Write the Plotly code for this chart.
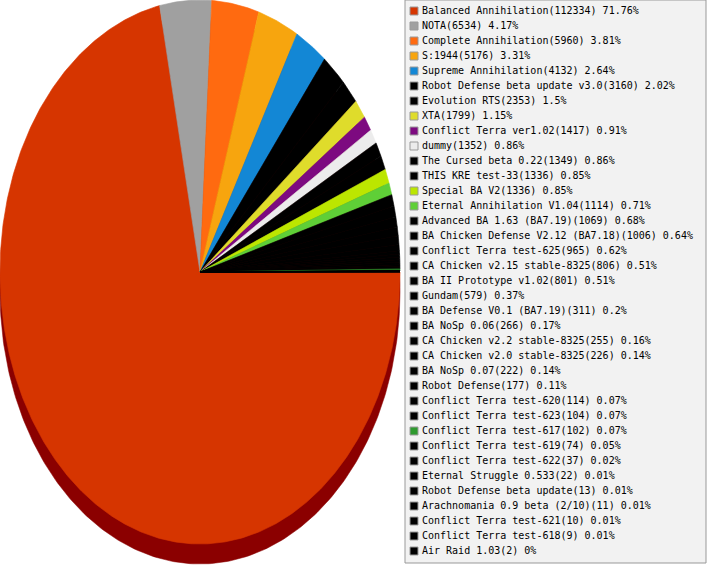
import numpy as np
import plotly.graph_objects as go

names = [
    "Balanced Annihilation", "NOTA", "Complete Annihilation", "S:1944",
    "Supreme Annihilation", "Robot Defense beta update v3.0", "Evolution RTS",
    "XTA", "Conflict Terra ver1.02", "dummy", "The Cursed beta 0.22",
    "THIS KRE test-33", "Special BA V2", "Eternal Annihilation V1.04",
    "Advanced BA 1.63 (BA7.19)", "BA Chicken Defense V2.12 (BA7.18)",
    "Conflict Terra test-625", "CA Chicken v2.15 stable-8325",
    "BA II Prototype v1.02", "Gundam", "BA Defense V0.1 (BA7.19)",
    "BA NoSp 0.06", "CA Chicken v2.2 stable-8325", "CA Chicken v2.0 stable-8325",
    "BA NoSp 0.07", "Robot Defense", "Conflict Terra test-620",
    "Conflict Terra test-623", "Conflict Terra test-617", "Conflict Terra test-619",
    "Conflict Terra test-622", "Eternal Struggle 0.533", "Robot Defense beta update",
    "Arachnomania 0.9 beta (2/10)", "Conflict Terra test-621",
    "Conflict Terra test-618", "Air Raid 1.03",
]
counts = [
    112334, 6534, 5960, 5176, 4132, 3160, 2353, 1799, 1417, 1352, 1349, 1336,
    1336, 1114, 1069, 1006, 965, 806, 801, 579, 311, 266, 255, 226, 222, 177,
    114, 104, 102, 74, 37, 22, 13, 11, 10, 9, 2,
]
percents = [
    "71.76", "4.17", "3.81", "3.31", "2.64", "2.02", "1.5", "1.15", "0.91",
    "0.86", "0.86", "0.85", "0.85", "0.71", "0.68", "0.64", "0.62", "0.51",
    "0.51", "0.37", "0.2", "0.17", "0.16", "0.14", "0.14", "0.11", "0.07",
    "0.07", "0.07", "0.05", "0.02", "0.01", "0.01", "0.01", "0.01", "0.01", "0",
]
colors = [
    "#d63500", "#a0a0a0", "#ff6a10", "#f7a50e", "#1387d5", "#000000", "#000000",
    "#dfdc2b", "#7d0a80", "#ececec", "#000000", "#000000", "#bce600", "#5fcf37",
    "#000000", "#000000", "#000000", "#000000", "#000000", "#000000", "#000000",
    "#000000", "#000000", "#000000", "#000000", "#000000", "#000000", "#000000",
    "#2e9a2e", "#000000", "#000000", "#000000", "#000000", "#000000", "#000000",
    "#000000", "#000000",
]

# geometry (pixel units on hidden axes)
CX, CY, RX, RY, DEPTH = 200.0, 272.0, 200.0, 272.0, 20.0
LEG_X0, LEG_Y0, LEG_X1, LEG_Y1 = 405, 0, 706, 563
SQ_X, TXT_X, ROW0, ROWH = 414, 422, 11, 15

fig = go.Figure()

# side / shadow of the pie
t = np.linspace(0, 2 * np.pi, 400)
fig.add_trace(go.Scatter(
    x=CX + RX * np.cos(t), y=CY + DEPTH + RY * np.sin(t),
    fill="toself", fillcolor="#8b0000", mode="lines",
    line=dict(color="#8b0000", width=0.5), showlegend=False, hoverinfo="skip"))

vals = np.array(counts, dtype=float)
fracs = vals / vals.sum()
cum = np.concatenate([[0], np.cumsum(fracs)]) * 2 * np.pi
for i, (nm, c) in enumerate(zip(names, colors)):
    a0, a1 = cum[i], cum[i + 1]
    n = max(2, int(np.ceil((a1 - a0) / (2 * np.pi) * 720)))
    tt = np.linspace(a0, a1, n)
    xs = np.concatenate([[CX], CX + RX * np.cos(tt), [CX]])
    ys = np.concatenate([[CY], CY + RY * np.sin(tt), [CY]])
    fig.add_trace(go.Scatter(
        x=xs, y=ys, fill="toself", fillcolor=c, mode="lines",
        line=dict(color=c, width=0.6), showlegend=False,
        name=nm, hoverinfo="name"))

# legend box
fig.add_shape(type="rect", x0=LEG_X0, y0=LEG_Y0, x1=LEG_X1, y1=LEG_Y1,
              xref="x", yref="y", fillcolor="#f2f2f2",
              line=dict(color="#999999", width=1), layer="below")

rows = [ROW0 + ROWH * i for i in range(len(names))]
fig.add_trace(go.Scatter(
    x=[SQ_X] * len(names), y=rows, mode="markers",
    marker=dict(symbol="square", size=8, color=colors,
                line=dict(color="#9a9a9a", width=1)),
    showlegend=False, hoverinfo="skip"))
labels = [f"{n}({c}) {p}%" for n, c, p in zip(names, counts, percents)]
fig.add_trace(go.Scatter(
    x=[TXT_X] * len(names), y=rows, mode="text", text=labels,
    textposition="middle right",
    textfont=dict(family="DejaVu Sans Mono", size=10, color="#000000"),
    showlegend=False, hoverinfo="skip"))

fig.update_layout(
    width=707, height=565, margin=dict(l=0, r=0, t=0, b=0),
    paper_bgcolor="#ffffff", plot_bgcolor="#ffffff",
    xaxis=dict(range=[0, 707], visible=False, fixedrange=True),
    yaxis=dict(range=[565, 0], visible=False, fixedrange=True),
    showlegend=False,
)
fig.write_html("out.html", config={"displayModeBar": False},
               post_script="document.body.style.margin='0px';")
